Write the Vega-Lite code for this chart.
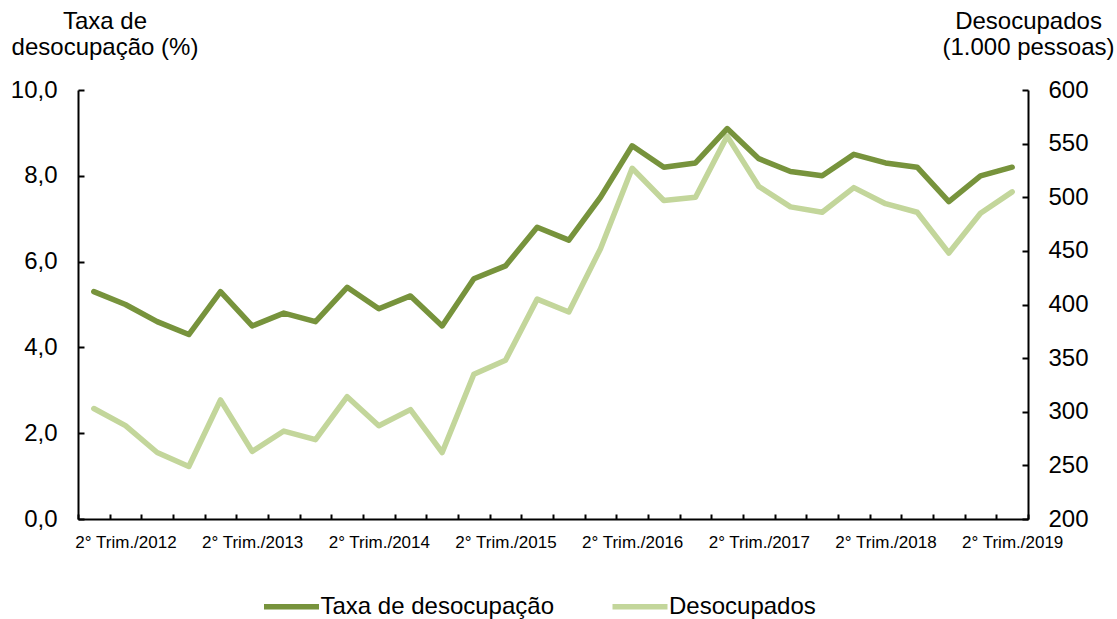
{
  "$schema": "https://vega.github.io/schema/vega-lite/v6.json",
  "width": 950,
  "height": 429,
  "autosize": {"type": "none"},
  "padding": {"left": 78, "top": 90, "right": 89, "bottom": 100},
  "config": {
    "view": {"stroke": null},
    "font": "Liberation Sans",
    "axis": {
      "grid": false,
      "domainColor": "#000000",
      "domainWidth": 2,
      "tickColor": "#000000",
      "tickWidth": 2,
      "labelColor": "#000000",
      "titleColor": "#000000",
      "labelFont": "Liberation Sans",
      "titleFont": "Liberation Sans",
      "titleFontWeight": "normal"
    },
    "legend": {"labelFont": "Liberation Sans", "labelColor": "#000000"}
  },
  "data": {
    "values": [
      {"i": 0, "q": "1° Trim./2012", "taxa": 5.3, "desoc": 303},
      {"i": 1, "q": "2° Trim./2012", "taxa": 5.0, "desoc": 287},
      {"i": 2, "q": "3° Trim./2012", "taxa": 4.6, "desoc": 262},
      {"i": 3, "q": "4° Trim./2012", "taxa": 4.3, "desoc": 249},
      {"i": 4, "q": "1° Trim./2013", "taxa": 5.3, "desoc": 311},
      {"i": 5, "q": "2° Trim./2013", "taxa": 4.5, "desoc": 263},
      {"i": 6, "q": "3° Trim./2013", "taxa": 4.8, "desoc": 282},
      {"i": 7, "q": "4° Trim./2013", "taxa": 4.6, "desoc": 274},
      {"i": 8, "q": "1° Trim./2014", "taxa": 5.4, "desoc": 314},
      {"i": 9, "q": "2° Trim./2014", "taxa": 4.9, "desoc": 287},
      {"i": 10, "q": "3° Trim./2014", "taxa": 5.2, "desoc": 302},
      {"i": 11, "q": "4° Trim./2014", "taxa": 4.5, "desoc": 262},
      {"i": 12, "q": "1° Trim./2015", "taxa": 5.6, "desoc": 335},
      {"i": 13, "q": "2° Trim./2015", "taxa": 5.9, "desoc": 348},
      {"i": 14, "q": "3° Trim./2015", "taxa": 6.8, "desoc": 405},
      {"i": 15, "q": "4° Trim./2015", "taxa": 6.5, "desoc": 393},
      {"i": 16, "q": "1° Trim./2016", "taxa": 7.5, "desoc": 452},
      {"i": 17, "q": "2° Trim./2016", "taxa": 8.7, "desoc": 527},
      {"i": 18, "q": "3° Trim./2016", "taxa": 8.2, "desoc": 497},
      {"i": 19, "q": "4° Trim./2016", "taxa": 8.3, "desoc": 500},
      {"i": 20, "q": "1° Trim./2017", "taxa": 9.1, "desoc": 557},
      {"i": 21, "q": "2° Trim./2017", "taxa": 8.4, "desoc": 510},
      {"i": 22, "q": "3° Trim./2017", "taxa": 8.1, "desoc": 491},
      {"i": 23, "q": "4° Trim./2017", "taxa": 8.0, "desoc": 486},
      {"i": 24, "q": "1° Trim./2018", "taxa": 8.5, "desoc": 509},
      {"i": 25, "q": "2° Trim./2018", "taxa": 8.3, "desoc": 494},
      {"i": 26, "q": "3° Trim./2018", "taxa": 8.2, "desoc": 486},
      {"i": 27, "q": "4° Trim./2018", "taxa": 7.4, "desoc": 448},
      {"i": 28, "q": "1° Trim./2019", "taxa": 8.0, "desoc": 485},
      {"i": 29, "q": "2° Trim./2019", "taxa": 8.2, "desoc": 505}
    ]
  },
  "encoding": {
    "x": {
      "field": "i",
      "type": "quantitative",
      "scale": {"domain": [-0.5, 29.5], "nice": false, "zero": false},
      "axis": {
        "title": null,
        "values": [-0.5, 0.5, 1.5, 2.5, 3.5, 4.5, 5.5, 6.5, 7.5, 8.5, 9.5, 10.5, 11.5, 12.5, 13.5, 14.5, 15.5, 16.5, 17.5, 18.5, 19.5, 20.5, 21.5, 22.5, 23.5, 24.5, 25.5, 26.5, 27.5, 28.5, 29.5],
        "labelExpr": "(datum.value - 1.5) % 4 == 0 ? '2° Trim./' + (2012 + (datum.value - 1.5) / 4) : ''",
        "labelOffset": -15.83,
        "labelAngle": 0,
        "labelFontSize": 17,
        "labelBaseline": "top",
        "labelOverlap": false,
        "labelFlush": false,
        "labelBound": false,
        "tickSize": -5,
        "labelPadding": 20
      }
    }
  },
  "layer": [
    {
      "mark": {"type": "line", "strokeWidth": 5.5, "strokeCap": "round", "strokeJoin": "round"},
      "encoding": {
        "y": {
          "field": "desoc",
          "type": "quantitative",
          "scale": {"domain": [200, 600], "zero": false},
          "axis": {
            "orient": "right",
            "values": [200, 250, 300, 350, 400, 450, 500, 550, 600],
            "format": "d",
            "labelFontSize": 24,
            "tickSize": -6,
            "labelPadding": 26,
            "title": ["Desocupados", "(1.000 pessoas)"],
            "titleAngle": 0,
            "titleX": 0,
            "titleY": -62,
            "titleAlign": "center",
            "titleBaseline": "alphabetic",
            "titleFontSize": 24,
            "titleLineHeight": 26.5
          }
        },
        "color": {
          "datum": "Desocupados",
          "type": "nominal",
          "scale": {"domain": ["Taxa de desocupação", "Desocupados"], "range": ["#77933C", "#C3D69B"]}
        }
      }
    },
    {
      "mark": {"type": "line", "strokeWidth": 5.5, "strokeCap": "round", "strokeJoin": "round"},
      "encoding": {
        "y": {
          "field": "taxa",
          "type": "quantitative",
          "scale": {"domain": [0, 10]},
          "axis": {
            "orient": "left",
            "values": [0, 2, 4, 6, 8, 10],
            "labelExpr": "replace(format(datum.value, '.1f'), '.', ',')",
            "labelFontSize": 24,
            "tickSize": -6,
            "labelPadding": 27,
            "title": ["Taxa de", "desocupação (%)"],
            "titleAngle": 0,
            "titleX": 26.5,
            "titleY": -62,
            "titleAlign": "center",
            "titleBaseline": "alphabetic",
            "titleFontSize": 24,
            "titleLineHeight": 26.5
          }
        },
        "color": {
          "datum": "Taxa de desocupação",
          "type": "nominal",
          "scale": {"domain": ["Taxa de desocupação", "Desocupados"], "range": ["#77933C", "#C3D69B"]},
          "legend": {
            "orient": "none",
            "legendX": 183,
            "legendY": 486,
            "direction": "horizontal",
            "title": null,
            "symbolType": "stroke",
            "symbolSize": 3025,
            "symbolStrokeWidth": 5.5,
            "labelFontSize": 24,
            "labelLimit": 0,
            "labelOffset": -1.5,
            "columnPadding": 46.5,
            "padding": 0
          }
        }
      }
    }
  ],
  "resolve": {"scale": {"y": "independent"}}
}
